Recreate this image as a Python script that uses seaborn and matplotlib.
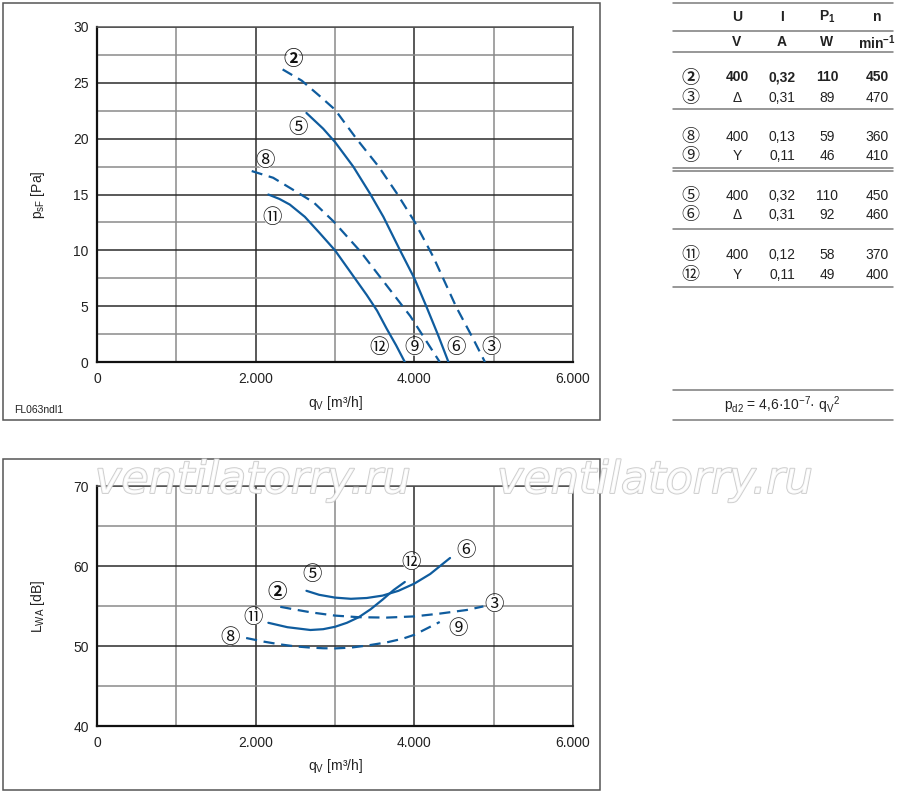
import matplotlib
matplotlib.use("Agg")
import matplotlib.pyplot as plt
import matplotlib.patheffects as pe
from matplotlib.patches import Rectangle
from matplotlib.lines import Line2D
import seaborn as sns
import pandas as pd

# ---- data ----
# pressure curves p_sF [Pa] over q_V [m3/h]
q_23 = [2340, 2580, 2810, 3000, 3270, 3550, 3780, 4000, 4240, 4530, 4740, 4890]
p_23 = [26.2, 25.2, 23.8, 22.6, 20.0, 17.5, 15.1, 12.6, 9.4, 4.9, 2.1, 0.0]
q_56 = [2640, 2850, 3000, 3230, 3440, 3610, 3820, 4000, 4150, 4300, 4430]
p_56 = [22.3, 20.9, 19.7, 17.5, 15.1, 13.0, 10.0, 7.5, 5.0, 2.4, 0.0]
q_89 = [1950, 2220, 2500, 2730, 2980, 3320, 3570, 3950, 4320]
p_89 = [17.1, 16.5, 15.3, 14.3, 12.6, 9.9, 7.6, 4.1, 0.0]
q_1112 = [2160, 2300, 2430, 2620, 2800, 3000, 3200, 3400, 3530, 3650, 3770, 3880]
p_1112 = [15.0, 14.6, 14.1, 13.0, 11.6, 10.0, 8.0, 6.0, 4.6, 3.0, 1.5, 0.0]

# sound power curves L_WA [dB] over q_V [m3/h]
qs_23 = [2310, 2500, 2700, 3000, 3300, 3650, 4000, 4320, 4660, 4870]
L_23 = [54.9, 54.55, 54.2, 53.8, 53.6, 53.55, 53.7, 54.05, 54.5, 54.95]
qs_56 = [2640, 2800, 3000, 3200, 3400, 3600, 3800, 4000, 4200, 4450]
L_56 = [56.9, 56.4, 56.05, 55.9, 56.0, 56.3, 56.9, 57.8, 59.0, 61.0]
qs_89 = [1880, 2100, 2310, 2500, 2690, 2850, 3000, 3200, 3400, 3650, 3850,
         4000, 4160, 4320]
L_89 = [51.0, 50.55, 50.2, 49.95, 49.8, 49.72, 49.7, 49.8, 50.05, 50.45,
        50.9, 51.4, 52.2, 53.0]
qs_1112 = [2160, 2400, 2690, 2850, 3000, 3150, 3300, 3450, 3600, 3740, 3880]
L_1112 = [52.9, 52.35, 52.0, 52.1, 52.4, 52.9, 53.6, 54.6, 55.8, 57.0, 58.0]

# curve labels (text, q, value, bold)
top_labels = [("②", 2470, 27.1, True), ("⑤", 2530, 21.0, False),
              ("⑧", 2120, 18.0, False), ("⑪", 2210, 12.9, False),
              ("⑫", 3553, 1.3, False), ("⑨", 4002, 1.3, False),
              ("⑥", 4529, 1.3, False), ("③", 4968, 1.3, False)]
bot_labels = [("⑤", 2706, 58.9, False), ("②", 2273, 56.7, True),
              ("⑪", 1971, 53.6, False), ("⑧", 1676, 51.1, False),
              ("⑫", 3954, 60.5, False), ("⑥", 4651, 62.0, False),
              ("③", 5008, 55.25, False), ("⑨", 4554, 52.2, False)]

# table
tbl_head = ["U", "I", r"P$\mathbf{_1}$", "n"]
tbl_units = ["V", "A", "W", r"min$\mathbf{^{-1}}$"]
tbl_ids = ["②", "③", "⑧", "⑨", "⑤", "⑥", "⑪", "⑫"]
tbl_U = ["400", "Δ", "400", "Y", "400", "Δ", "400", "Y"]
tbl_I = ["0,32", "0,31", "0,13", "0,11", "0,32", "0,31", "0,12", "0,11"]
tbl_P = ["110", "89", "59", "46", "110", "92", "58", "49"]
tbl_n = ["450", "470", "360", "410", "450", "460", "370", "400"]

BLUE = "#0f5c9e"
CIRCLE_FONT = ["Noto Sans CJK JP", "DejaVu Sans"]
W, H = 900, 797

sns.set_theme(style="white")
plt.rcParams["font.family"] = ["Liberation Sans", "DejaVu Sans"]
plt.rcParams["mathtext.fontset"] = "custom"
plt.rcParams["mathtext.rm"] = "Liberation Sans"
plt.rcParams["mathtext.it"] = "Liberation Sans:italic"
plt.rcParams["mathtext.bf"] = "Liberation Sans:bold"

fig = plt.figure(figsize=(9, 7.97), dpi=100)


def fx(px):
    return px / W


def fy(py):
    return 1 - py / H


def style_axes(ax, xmaj, xmin, ymaj, ymin, ylim):
    ax.set_xlim(0, 6000)
    ax.set_ylim(*ylim)
    ax.set_xticks(xmaj)
    ax.set_xticks(xmin, minor=True)
    ax.set_yticks(ymaj)
    ax.set_yticks(ymin, minor=True)
    ax.set_xticklabels(["0" if v == 0 else f"{v // 1000}.000" for v in xmaj])
    ax.set_yticklabels([str(v) for v in ymaj])
    ax.grid(which="major", color="#2b2b2b", lw=1.1, zorder=0)
    ax.grid(which="minor", color="#8a8a8a", lw=1.1, zorder=0)
    ax.set_axisbelow(True)
    ax.tick_params(which="both", direction="out", length=3, width=1,
                   color="#555555", labelsize=10, labelcolor="#222222")
    ax.tick_params(axis="x", pad=4)
    ax.tick_params(axis="y", pad=3)
    ax.tick_params(which="minor", labelleft=False, labelbottom=False)
    for side in ["left", "bottom"]:
        ax.spines[side].set_color("#111111")
        ax.spines[side].set_linewidth(1.6)
    for side in ["top", "right"]:
        ax.spines[side].set_color("#555555")
        ax.spines[side].set_linewidth(1.1)


def draw_curve(ax, q, v, dashed):
    df = pd.DataFrame({"q": q, "v": v})
    kw = dict(linestyle=(0, (5, 3))) if dashed else {}
    sns.lineplot(data=df, x="q", y="v", ax=ax, color=BLUE, linewidth=1.6,
                 zorder=3, **kw)


def draw_labels(ax, labels):
    for txt, q, v, bold in labels:
        ax.text(q, v, txt, ha="center", va="center", fontsize=14,
                family=CIRCLE_FONT, fontweight="bold" if bold else "normal",
                color="#111111", zorder=4,
                bbox=dict(boxstyle="circle,pad=-0.12", fc="white", ec="none"))


# ---- panel frames ----
for (x0, y0, x1, y1) in [(3, 3, 600, 420), (3, 459, 600, 790)]:
    fig.add_artist(Rectangle((fx(x0), fy(y1)), fx(x1) - fx(x0), fy(y0) - fy(y1),
                             transform=fig.transFigure, fill=False,
                             ec="#555555", lw=1.1))

# ---- top chart: pressure ----
ax1 = fig.add_axes([fx(97), fy(362), fx(573) - fx(97), fy(27) - fy(362)])
draw_curve(ax1, q_23, p_23, True)
draw_curve(ax1, q_56, p_56, False)
draw_curve(ax1, q_89, p_89, True)
draw_curve(ax1, q_1112, p_1112, False)
style_axes(ax1, [0, 2000, 4000, 6000], [1000, 3000, 5000],
           list(range(0, 31, 5)), [2.5, 7.5, 12.5, 17.5, 22.5, 27.5], (0, 30))
draw_labels(ax1, top_labels)
ax1.set_xlabel(r"q$\mathregular{_V}$ [m³/h]", fontsize=10, color="#222222")
ax1.set_ylabel(r"p$\mathregular{_{sF}}$ [Pa]", fontsize=10, color="#222222")
ax1.xaxis.set_label_coords(0.5, -0.095)
ax1.yaxis.set_label_coords(-0.105, 0.5)
fig.text(fx(14), fy(410), "FL063ndl1", fontsize=7.5, color="#222222",
         va="center", ha="left")

# ---- bottom chart: sound power ----
ax2 = fig.add_axes([fx(97), fy(726), fx(573) - fx(97), fy(486) - fy(726)])
draw_curve(ax2, qs_23, L_23, True)
draw_curve(ax2, qs_56, L_56, False)
draw_curve(ax2, qs_89, L_89, True)
draw_curve(ax2, qs_1112, L_1112, False)
style_axes(ax2, [0, 2000, 4000, 6000], [1000, 3000, 5000],
           [40, 50, 60, 70], [45, 55, 65], (40, 70))
draw_labels(ax2, bot_labels)
ax2.set_xlabel(r"q$\mathregular{_V}$ [m³/h]", fontsize=10, color="#222222")
ax2.set_ylabel(r"L$\mathregular{_{WA}}$ [dB]", fontsize=10, color="#222222")
ax2.xaxis.set_label_coords(0.5, -0.13)
ax2.yaxis.set_label_coords(-0.105, 0.5)

# watermark
for x0 in [95, 497]:
    fig.text(fx(x0), fy(493), "ventilatorry.ru", fontsize=32, style="italic",
             family="DejaVu Sans", color="white", alpha=0.85,
             va="baseline", ha="left", zorder=10,
             path_effects=[pe.Stroke(linewidth=1.3, foreground="#c4c4c4"),
                           pe.Normal()])

# ---- table ----
cols = [737, 782, 827, 877]
for py in [3, 30.5, 52, 109, 168.3, 170.9, 228.5, 287.5, 390, 420]:
    fig.add_artist(Line2D([fx(673), fx(893)], [fy(py), fy(py)],
                          transform=fig.transFigure, color="#7a7a7a", lw=1.1))
for cx, h, u in zip(cols, tbl_head, tbl_units):
    fig.text(fx(cx), fy(16.7), h, ha="center", va="center", fontsize=10,
             fontweight="bold", color="#222222")
    fig.text(fx(cx), fy(42.3), u, ha="center", va="center", fontsize=10,
             fontweight="bold", color="#222222")
row_y = [77.3, 97.7, 136.7, 155.7, 196, 215, 255, 275]
for i, ry in enumerate(row_y):
    bold = "bold" if i == 0 else "normal"
    fig.text(fx(690), fy(ry), tbl_ids[i], ha="center", va="center",
             fontsize=13, family=CIRCLE_FONT, fontweight=bold,
             color="#222222")
    for cx, col in zip(cols, [tbl_U, tbl_I, tbl_P, tbl_n]):
        fig.text(fx(cx), fy(ry), col[i], ha="center", va="center",
                 fontsize=10, fontweight=bold, color="#222222")
fig.text(fx(782), fy(405),
         r"p$\mathregular{_{d2}}$ = 4,6·10$\mathregular{^{-7}}$· "
         r"q$\mathregular{_V}$$\mathregular{^2}$",
         ha="center", va="center", fontsize=10, color="#222222")

fig.savefig("out.png", dpi=100, facecolor="white")
plt.close(fig)
